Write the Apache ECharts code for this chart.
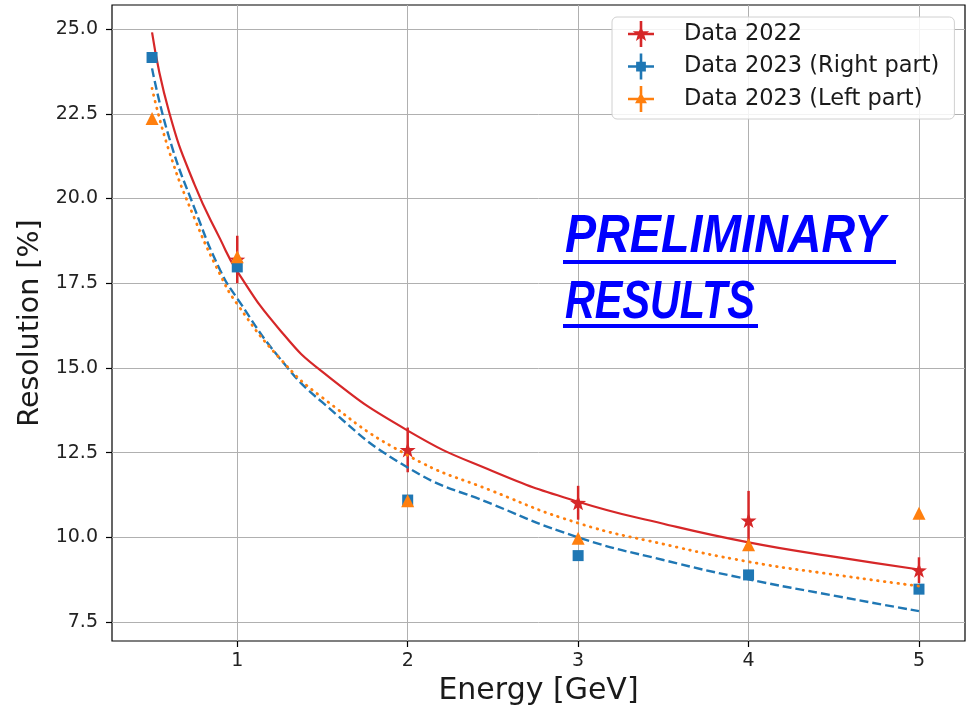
<!DOCTYPE html>
<html><head><meta charset="utf-8">
<script src="https://cdn.jsdelivr.net/npm/echarts@6/dist/echarts.min.js"></script>
<style>html,body{margin:0;padding:0;background:#fff}#chart{width:972px;height:711px}</style>
</head><body><div id="chart"></div>
<script>
// ---- data ----
const energies2022 = [1, 2, 3, 4, 5];
const res2022 = [18.2, 12.58, 11.02, 10.5, 9.03];
const err2022 = [0.7, 0.66, 0.5, 0.87, 0.38];

const energies2023 = [0.5, 1, 2, 3, 4, 5];
const resRight = [24.16, 17.98, 11.1, 9.46, 8.89, 8.47];
const resLeft = [22.36, 18.28, 11.08, 9.97, 9.78, 10.71];

const fitX = [0.5, 0.6, 0.75, 0.9, 1, 1.25, 1.5, 2, 2.5, 3, 3.5, 4, 4.5, 5];
const fit2022 = [24.9, 22.55, 20.4, 18.8, 17.85, 16.12, 14.88, 13.15, 11.95, 11.05, 10.4, 9.85, 9.43, 9.05];
const fitRight = [23.84, 21.8, 19.7, 17.88, 17.05, 15.28, 13.98, 12.06, 10.97, 10.0, 9.33, 8.76, 8.28, 7.82];
const fitLeft = [23.25, 21.4, 19.4, 17.75, 16.88, 15.28, 14.12, 12.42, 11.36, 10.42, 9.8, 9.28, 8.9, 8.56];

const xTicks = [1, 2, 3, 4, 5];
const yTicks = [7.5, 10, 12.5, 15, 17.5, 20, 22.5, 25];
const seriesNames = ['Data 2022', 'Data 2023 (Right part)', 'Data 2023 (Left part)'];
const xName = 'Energy [GeV]';
const yName = 'Resolution [%]';
const stampLines = ['PRELIMINARY', 'RESULTS'];

// ---- styles ----
const RED = '#d62728', BLUE = '#1f77b4', ORANGE = '#ff7f0e';
const FONT = '"DejaVu Sans", sans-serif';
const STAR = 'path://M10,0 L12.351,6.764 L19.511,6.910 L13.804,11.236 L15.878,18.090 L10,14 L4.122,18.090 L6.196,11.236 L0.489,6.910 L7.649,6.764 Z';
const BARS = 'M10.8,0 L13.2,0 L13.2,24 L10.8,24 Z M0,10.8 L24,10.8 L24,13.2 L0,13.2 Z ';
const iconRed = 'path://' + BARS + 'M12,4 L13.88,9.41 L19.61,9.53 L15.04,12.99 L16.70,18.47 L12,15.2 L7.30,18.47 L8.96,12.99 L4.39,9.53 L10.12,9.41 Z';
const iconBlue = 'path://' + BARS + 'M7.5,7.5 L16.5,7.5 L16.5,16.5 L7.5,16.5 Z';
const iconOrange = 'path://' + BARS + 'M12,6 L17.5,16 L6.5,16 Z';

const zip = (xs, ys) => xs.map((x, i) => [x, ys[i]]);

const chart = echarts.init(document.getElementById('chart'), null, {renderer: 'canvas'});
chart.setOption({
  animation: false,
  backgroundColor: '#fff',
  grid: {left: 112, right: 7, top: 5, bottom: 70, show: true, borderColor: '#000', borderWidth: 1.2, backgroundColor: 'transparent'},
  xAxis: {
    type: 'value', min: 0.265, max: 5.27,
    name: xName, nameLocation: 'middle', nameGap: 34,
    nameTextStyle: {fontFamily: FONT, fontSize: 30, color: '#1a1a1a'},
    axisLine: {show: false},
    axisTick: {show: true, length: 6, inside: false, lineStyle: {color: '#000', width: 1.2}, customValues: xTicks},
    axisLabel: {customValues: xTicks, margin: 11, fontFamily: FONT, fontSize: 19, color: '#222', formatter: v => String(v)},
    splitLine: {show: true, lineStyle: {color: '#b0b0b0', width: 1}}
  },
  yAxis: {
    type: 'value', min: 6.94, max: 25.71,
    name: yName, nameLocation: 'middle', nameGap: 66, nameRotate: 90,
    nameTextStyle: {fontFamily: FONT, fontSize: 28.5, color: '#1a1a1a'},
    axisLine: {show: false},
    axisTick: {show: true, length: 6, inside: false, lineStyle: {color: '#000', width: 1.2}, customValues: yTicks},
    axisLabel: {customValues: yTicks, margin: 14, fontFamily: FONT, fontSize: 19, color: '#222', formatter: v => v.toFixed(1)},
    splitLine: {show: true, lineStyle: {color: '#b0b0b0', width: 1}}
  },
  legend: {
    orient: 'vertical', left: 612, top: 17,
    padding: [4, 15, 7, 16],
    itemWidth: 26, itemHeight: 26, itemGap: 6.5,
    backgroundColor: 'rgba(255,255,255,0.85)', borderColor: '#d0d0d0', borderWidth: 1, borderRadius: 5,
    textStyle: {fontFamily: FONT, fontSize: 22.5, color: '#1a1a1a', lineHeight: 26, padding: [0, 0, 0, 25]},
    data: [
      {name: seriesNames[0], icon: iconRed},
      {name: seriesNames[1], icon: iconBlue},
      {name: seriesNames[2], icon: iconOrange}
    ]
  },
  series: [
    {type: 'line', name: 'fit2022', data: zip(fitX, fit2022), showSymbol: false, smooth: 0.5,
     lineStyle: {color: RED, width: 2.2}, z: 2, silent: true},
    {type: 'custom', name: 'err2022', z: 3, silent: true,
     data: energies2022.map((e, i) => [e, res2022[i] - err2022[i], res2022[i] + err2022[i]]),
     encode: {x: 0, y: [1, 2]},
     renderItem: function (params, api) {
       const p1 = api.coord([api.value(0), api.value(1)]);
       const p2 = api.coord([api.value(0), api.value(2)]);
       return {type: 'line', shape: {x1: p1[0], y1: p1[1], x2: p2[0], y2: p2[1]}, style: {stroke: RED, lineWidth: 2.5}};
     }},
    {type: 'scatter', name: seriesNames[0], data: zip(energies2022, res2022), symbol: STAR, symbolKeepAspect: true, symbolSize: 16,
     itemStyle: {color: RED, opacity: 1}, z: 4},
    {type: 'line', name: 'fitRight', data: zip(fitX, fitRight), showSymbol: false, smooth: 0.5,
     lineStyle: {color: BLUE, width: 2.4, type: [9, 4]}, z: 5, silent: true},
    {type: 'scatter', name: seriesNames[1], data: zip(energies2023, resRight), symbol: 'rect', symbolSize: 11,
     itemStyle: {color: BLUE, opacity: 1}, z: 6},
    {type: 'line', name: 'fitLeft', data: zip(fitX, fitLeft), showSymbol: false, smooth: 0.5,
     lineStyle: {color: ORANGE, width: 2.8, type: [0.6, 6.2], cap: 'round'}, z: 7, silent: true},
    {type: 'scatter', name: seriesNames[2], data: zip(energies2023, resLeft), symbol: 'triangle', symbolSize: 13,
     itemStyle: {color: ORANGE, opacity: 1}, z: 8}
  ],
  graphic: [
    {type: 'text', x: 565, y: 237.5, scaleX: 0.88, z: 100,
     style: {text: stampLines[0], font: 'italic bold 53px "Liberation Sans"', fill: '#0000ff', verticalAlign: 'middle', align: 'left'}},
    {type: 'rect', z: 100, shape: {x: 563, y: 260, width: 333, height: 4}, style: {fill: '#0000ff'}},
    {type: 'text', x: 565, y: 303.5, scaleX: 0.78, z: 100,
     style: {text: stampLines[1], font: 'italic bold 53px "Liberation Sans"', fill: '#0000ff', verticalAlign: 'middle', align: 'left'}},
    {type: 'rect', z: 100, shape: {x: 563, y: 324, width: 195, height: 4}, style: {fill: '#0000ff'}}
  ]
});
</script>
</body></html>
